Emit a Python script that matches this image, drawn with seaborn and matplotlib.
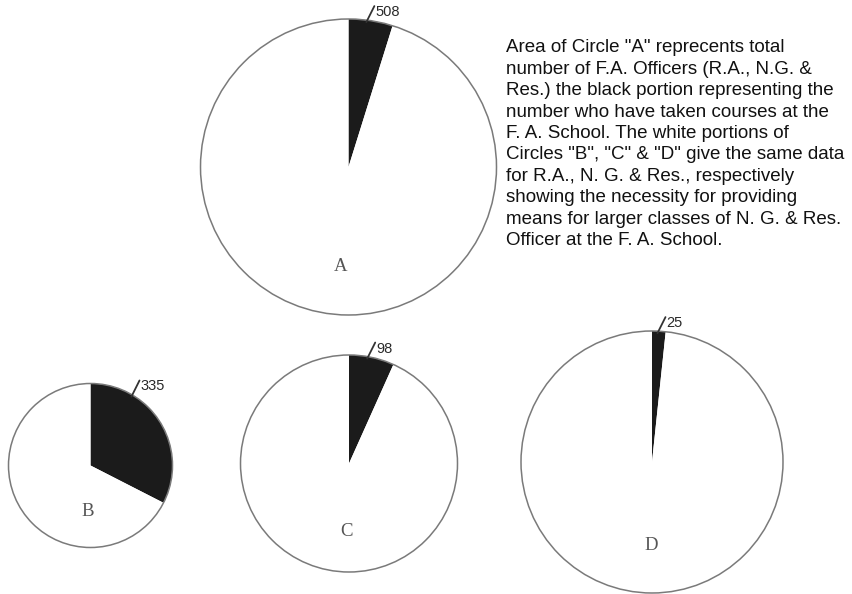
import numpy as np
import matplotlib
matplotlib.use("Agg")
import matplotlib.pyplot as plt
import seaborn as sns
from matplotlib.patches import Circle

# dados
circulos = ["A", "B", "C", "D"]
cursados = [508, 335, 98, 25]          # parte preta: oficiais que fizeram cursos na F.A. School
totais = [10550, 1030, 1460, 1500]     # total de oficiais (estimado pela abertura da fatia)

texto = [
    'Area of Circle "A" reprecents total',
    'number of F.A. Officers (R.A., N.G. &',
    'Res.) the black portion representing the',
    'number who have taken courses at the',
    'F. A. School. The white portions of',
    'Circles "B", "C" & "D" give the same data',
    'for R.A., N. G. & Res., respectively',
    'showing the necessity for providing',
    'means for larger classes of N. G. & Res.',
    'Officer at the F. A. School.',
]

# layout em pixels (y para cima)
W, H = 853, 594
centros = [(348.5, 427), (90.5, 128.5), (349, 130.5), (652, 132)]
raios = [148, 82, 108.5, 131]
desloc_letra = [(-8, -100), (-2.5, -46.5), (-2, -68), (-1, -84)]

sns.set_style("white")
plt.rcParams['font.family'] = ['Liberation Sans', 'DejaVu Sans']

fig = plt.figure(figsize=(W / 100, H / 100), dpi=100)
ax = fig.add_axes([0, 0, 1, 1])

for nome, c, t, ctr, r, dl in zip(circulos, cursados, totais, centros, raios, desloc_letra):
    ax.pie([c, t - c], colors=['#1b1b1b', 'white'], startangle=90, counterclock=False,
           center=ctr, radius=r, frame=True, wedgeprops=dict(linewidth=0))
    ax.add_patch(Circle(ctr, r, fill=False, edgecolor='#7a7a7a', linewidth=1.1))

    # letra do circulo
    ax.text(ctr[0] + dl[0], ctr[1] + dl[1], nome, family='Liberation Serif',
            fontsize=13.5, color='#555555', ha='center', va='center')

    # numero com traço na borda
    ang = np.radians(min(0.4 * 360 * c / t, 30))
    px = ctr[0] + r * np.sin(ang)
    py = ctr[1] + r * np.cos(ang)
    ax.plot([px, px + 8], [py - 2, py + 14], color='#333333', linewidth=1.3)
    ax.text(px + 9, py + 8, str(c), fontsize=10.5, color='#2a2a2a',
            ha='left', va='center')

# bloco de texto explicativo
for i, linha in enumerate(texto):
    ax.text(506, H - (52.5 + i * 21.4), linha, fontsize=13.5, color='#111111',
            ha='left', va='baseline')

ax.set_xlim(0, W)
ax.set_ylim(0, H)
ax.set_aspect('equal')
ax.axis('off')

fig.savefig('out.png', dpi=100, facecolor='white')
